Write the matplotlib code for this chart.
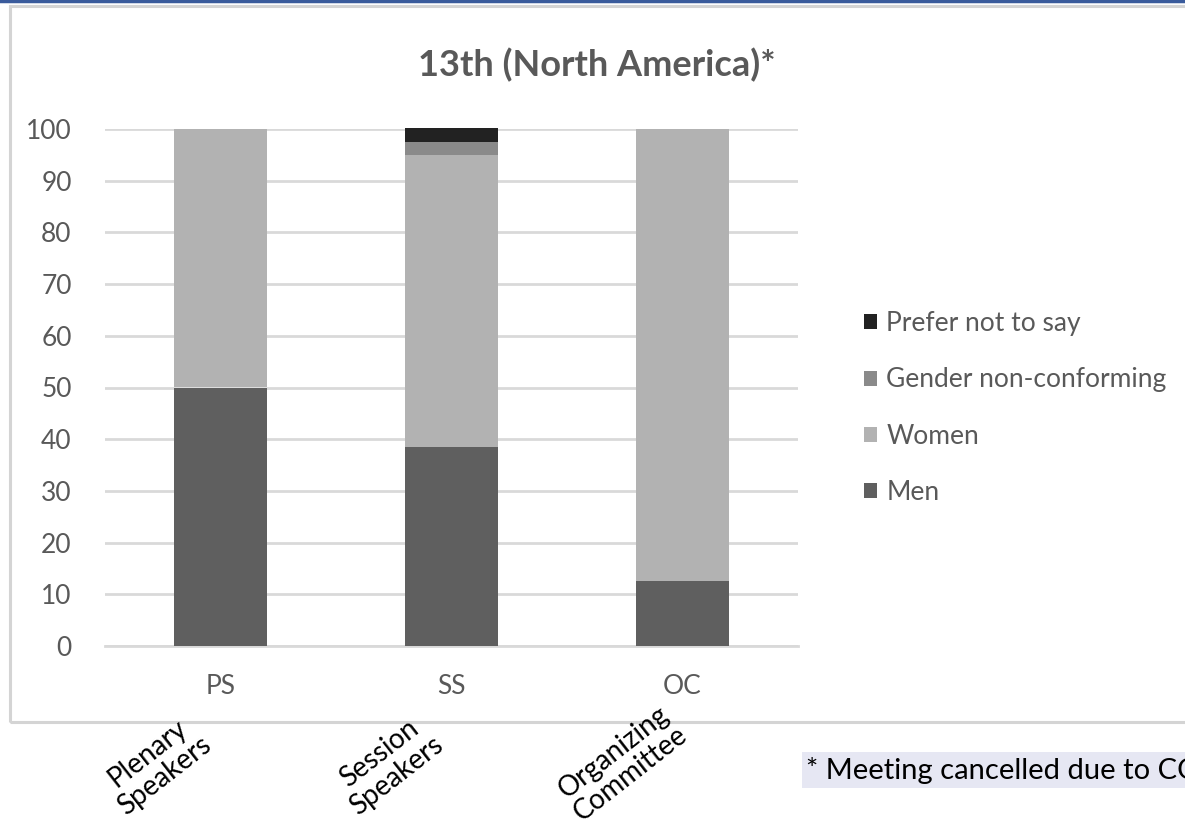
import numpy as np
import matplotlib.pyplot as plt
from matplotlib.patches import Rectangle
from matplotlib.lines import Line2D

plt.rcParams['font.family'] = ['Lato', 'DejaVu Sans']

groups = ['PS', 'SS', 'OC']
group_names = ['Plenary\nSpeakers', 'Session\nSpeakers', 'Organizing\nCommittee']
men = [50.0, 38.5, 12.5]
women = [50.0, 56.4, 87.5]
nonconforming = [0.0, 2.6, 0.0]
no_answer = [0.0, 2.6, 0.0]

series = [('Men', men, '#5f5f5f'),
          ('Women', women, '#b2b2b2'),
          ('Gender non-conforming', nonconforming, '#8a8a8a'),
          ('Prefer not to say', no_answer, '#222222')]

W, H = 1185, 826
fig = plt.figure(figsize=(W / 100, H / 100), dpi=100)
fig.patch.set_facecolor('white')

# chart frame + blue strip at the top
fig.patches.append(Rectangle((10 / W, 1 - 722 / H), 1.2, (722 - 6) / H,
                             transform=fig.transFigure, fill=False,
                             edgecolor='#d4d4d4', lw=2.2))
fig.lines.append(Line2D([0, 1], [1 - 1 / H, 1 - 1 / H], transform=fig.transFigure,
                        color='#3a5b9c', lw=2.5))

ax = fig.add_axes([105 / W, 1 - 646 / H, 693 / W, (646 - 129) / H])
x = np.arange(len(groups))
bottom = np.zeros(len(groups))
handles = []
for name, vals, col in series:
    b = ax.bar(x, vals, 0.4, bottom=bottom, color=col, label=name,
               clip_on=False, zorder=3)
    bottom += np.array(vals)
    handles.append(b)

ax.set_xlim(-0.5, 2.5)
ax.set_ylim(0, 100)
ax.set_yticks(range(0, 101, 10))
ax.yaxis.grid(True, color='#d9d9d9', lw=2)
ax.set_axisbelow(True)
for s in ['top', 'right', 'left']:
    ax.spines[s].set_visible(False)
ax.spines['bottom'].set_color('#d9d9d9')
ax.spines['bottom'].set_linewidth(2)
ax.set_xticks(x)
ax.set_xticklabels(groups)
ax.tick_params(axis='both', length=0, labelsize=19, colors='#595959')
ax.tick_params(axis='x', pad=20)
ax.tick_params(axis='y', pad=24)

fig.text(597 / W, 1 - 65 / H, '13th (North America)*', ha='center', va='center',
         fontsize=26, fontweight='bold', color='#595959')

leg = ax.legend(handles[::-1], [s[0] for s in series][::-1],
                loc='center left', bbox_to_anchor=(840 / W, 1 - 408 / H),
                bbox_transform=fig.transFigure, frameon=False, fontsize=19,
                handlelength=0.5, handleheight=0.5, handletextpad=0.35,
                labelspacing=1.18)
for t in leg.get_texts():
    t.set_color('#595959')

# long names under the chart
for cx, cy, name in zip([156, 388, 622], [765, 765, 763], group_names):
    fig.text(cx / W, 1 - cy / H, name, rotation=38, ha='center', va='center',
             multialignment='center', fontsize=20, color='black',
             rotation_mode='anchor', linespacing=1.1)

fig.text(806 / W, 1 - 770 / H, '* Meeting cancelled due to COVID-19',
         ha='left', va='center', fontsize=21, color='black',
         bbox=dict(boxstyle='square,pad=0.15', facecolor='#e6e7f3', edgecolor='none'))

fig.savefig('out.png', dpi=100)
